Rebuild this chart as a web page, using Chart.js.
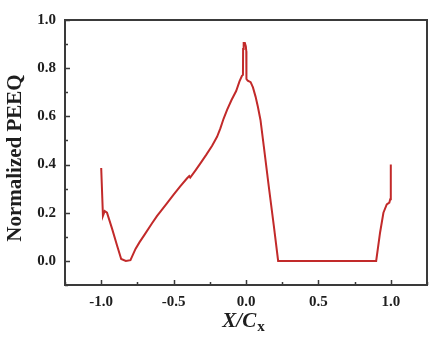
<!DOCTYPE html>
<html>
<head>
<meta charset="utf-8">
<script src="https://cdn.jsdelivr.net/npm/chart.js@4.4.1/dist/chart.umd.min.js"></script>
<style>
  html, body { margin: 0; padding: 0; background: #fff; }
  canvas { display: block; }
</style>
</head>
<body>
<canvas id="peeqChart" width="439" height="337"></canvas>
<script>
// X/Cx positions along the chord
const X_VALUES = [
  -1.0, -0.988, -0.976, -0.96, -0.924, -0.89, -0.862, -0.83, -0.798, -0.763,
  -0.735, -0.706, -0.65, -0.614, -0.58, -0.545, -0.5, -0.453, -0.407, -0.392,
  -0.385, -0.35, -0.315, -0.275, -0.234, -0.2, -0.177, -0.155, -0.13, -0.1,
  -0.068, -0.045, -0.028, -0.021, -0.02, -0.016, -0.008, -0.001, 0.002, 0.003,
  0.012, 0.032, 0.048, 0.066, 0.082, 0.1, 0.123, 0.157, 0.192, 0.222,
  0.5, 0.899, 0.926, 0.949, 0.972, 0.99, 0.996, 1.0
];

// normalized PEEQ
const PEEQ = [
  0.386, 0.187, 0.207, 0.2, 0.132, 0.063, 0.008, 0.0, 0.003, 0.05,
  0.078, 0.104, 0.155, 0.187, 0.213, 0.24, 0.275, 0.31, 0.343, 0.352,
  0.346, 0.375, 0.405, 0.44, 0.478, 0.515, 0.55, 0.59, 0.628, 0.668,
  0.705, 0.745, 0.768, 0.772, 0.88, 0.905, 0.905, 0.89, 0.87, 0.755,
  0.748, 0.742, 0.72, 0.682, 0.64, 0.585, 0.475, 0.31, 0.146, 0.0,
  0.0, 0.0, 0.118, 0.2, 0.235, 0.242, 0.256, 0.4
];

const X_TICKS = [-1.0, -0.5, 0.0, 0.5, 1.0];
const X_MINOR = [-1.25, -0.75, -0.25, 0.25, 0.75, 1.25];
const Y_TICKS = [0.0, 0.2, 0.4, 0.6, 0.8, 1.0];
const Y_MINOR = [-0.1, 0.1, 0.3, 0.5, 0.7, 0.9];

const Y_TITLE = "Normalized PEEQ";
const X_TITLE = "X/C";
const X_TITLE_SUB = "x";

const SERIF = "'Liberation Serif', 'Times New Roman', serif";
const TEXT_COLOR = "#1e1e1e";
const LINE_COLOR = "#c22a2a";

const points = X_VALUES.map((x, i) => ({ x: x, y: PEEQ[i] }));

// frame + inward ticks, and the axis titles (x one has a subscript)
const frameTicksPlugin = {
  id: "frameTicksPlugin",
  afterDraw(chart) {
    const { ctx, chartArea: a, scales } = chart;
    const xs = scales.x, ys = scales.y;

    ctx.save();
    ctx.strokeStyle = "#3a3a3a";
    ctx.lineWidth = 1.5;

    ctx.beginPath();
    X_TICKS.forEach((v) => {
      const px = Math.round(xs.getPixelForValue(v)) + 0.5;
      ctx.moveTo(px, a.bottom);
      ctx.lineTo(px, a.bottom - 5);
    });
    X_MINOR.forEach((v) => {
      const px = Math.round(xs.getPixelForValue(v)) + 0.5;
      ctx.moveTo(px, a.bottom);
      ctx.lineTo(px, a.bottom - 3);
    });
    Y_TICKS.forEach((v) => {
      const py = Math.round(ys.getPixelForValue(v)) + 0.5;
      ctx.moveTo(a.left, py);
      ctx.lineTo(a.left + 5, py);
    });
    Y_MINOR.forEach((v) => {
      const py = Math.round(ys.getPixelForValue(v)) + 0.5;
      ctx.moveTo(a.left, py);
      ctx.lineTo(a.left + 3, py);
    });
    ctx.stroke();

    ctx.lineWidth = 2;
    ctx.strokeRect(a.left, a.top, a.right - a.left, a.bottom - a.top);

    ctx.fillStyle = TEXT_COLOR;

    // y axis title
    ctx.save();
    ctx.translate(16, 158);
    ctx.rotate(-Math.PI / 2);
    ctx.textAlign = "center";
    ctx.textBaseline = "middle";
    ctx.font = "bold 21px " + SERIF;
    ctx.fillText(Y_TITLE, 0, 0);
    ctx.restore();

    // x axis title: X/C with subscript x
    ctx.textBaseline = "alphabetic";
    ctx.textAlign = "left";
    ctx.font = "italic bold 21px " + SERIF;
    const mainW = ctx.measureText(X_TITLE).width;
    ctx.font = "bold 15px " + SERIF;
    const subW = ctx.measureText(X_TITLE_SUB).width;
    const cx = (a.left + a.right) / 2 - 3;
    const startX = cx - (mainW + subW) / 2;
    ctx.font = "italic bold 21px " + SERIF;
    ctx.fillText(X_TITLE, startX, 327);
    ctx.font = "bold 15px " + SERIF;
    ctx.fillText(X_TITLE_SUB, startX + mainW + 1, 331);

    ctx.restore();
  }
};

new Chart(document.getElementById("peeqChart").getContext("2d"), {
  type: "scatter",
  data: {
    datasets: [{
      data: points,
      showLine: true,
      borderColor: LINE_COLOR,
      borderWidth: 2,
      pointRadius: 0,
      tension: 0,
      fill: false
    }]
  },
  options: {
    responsive: false,
    animation: false,
    devicePixelRatio: 1,
    layout: { padding: { left: 0, right: 12, top: 20, bottom: 0 } },
    plugins: {
      legend: { display: false },
      tooltip: { enabled: false }
    },
    scales: {
      x: {
        type: "linear",
        min: -1.25,
        max: 1.25,
        afterBuildTicks: (scale) => {
          scale.ticks = X_TICKS.map((v) => ({ value: v }));
        },
        afterFit: (scale) => { scale.height = 52; },
        grid: { display: false, drawTicks: false },
        border: { display: false },
        ticks: {
          padding: 8,
          color: TEXT_COLOR,
          font: { family: SERIF, size: 15, weight: "bold" },
          callback: (v) => v.toFixed(1)
        }
      },
      y: {
        type: "linear",
        min: -0.1,
        max: 1.0,
        afterBuildTicks: (scale) => {
          scale.ticks = Y_TICKS.map((v) => ({ value: v }));
        },
        afterFit: (scale) => { scale.width = 65; },
        grid: { display: false, drawTicks: false },
        border: { display: false },
        ticks: {
          padding: 9,
          color: TEXT_COLOR,
          font: { family: SERIF, size: 15, weight: "bold" },
          callback: (v) => v.toFixed(1)
        }
      }
    }
  },
  plugins: [frameTicksPlugin]
});
</script>
</body>
</html>
